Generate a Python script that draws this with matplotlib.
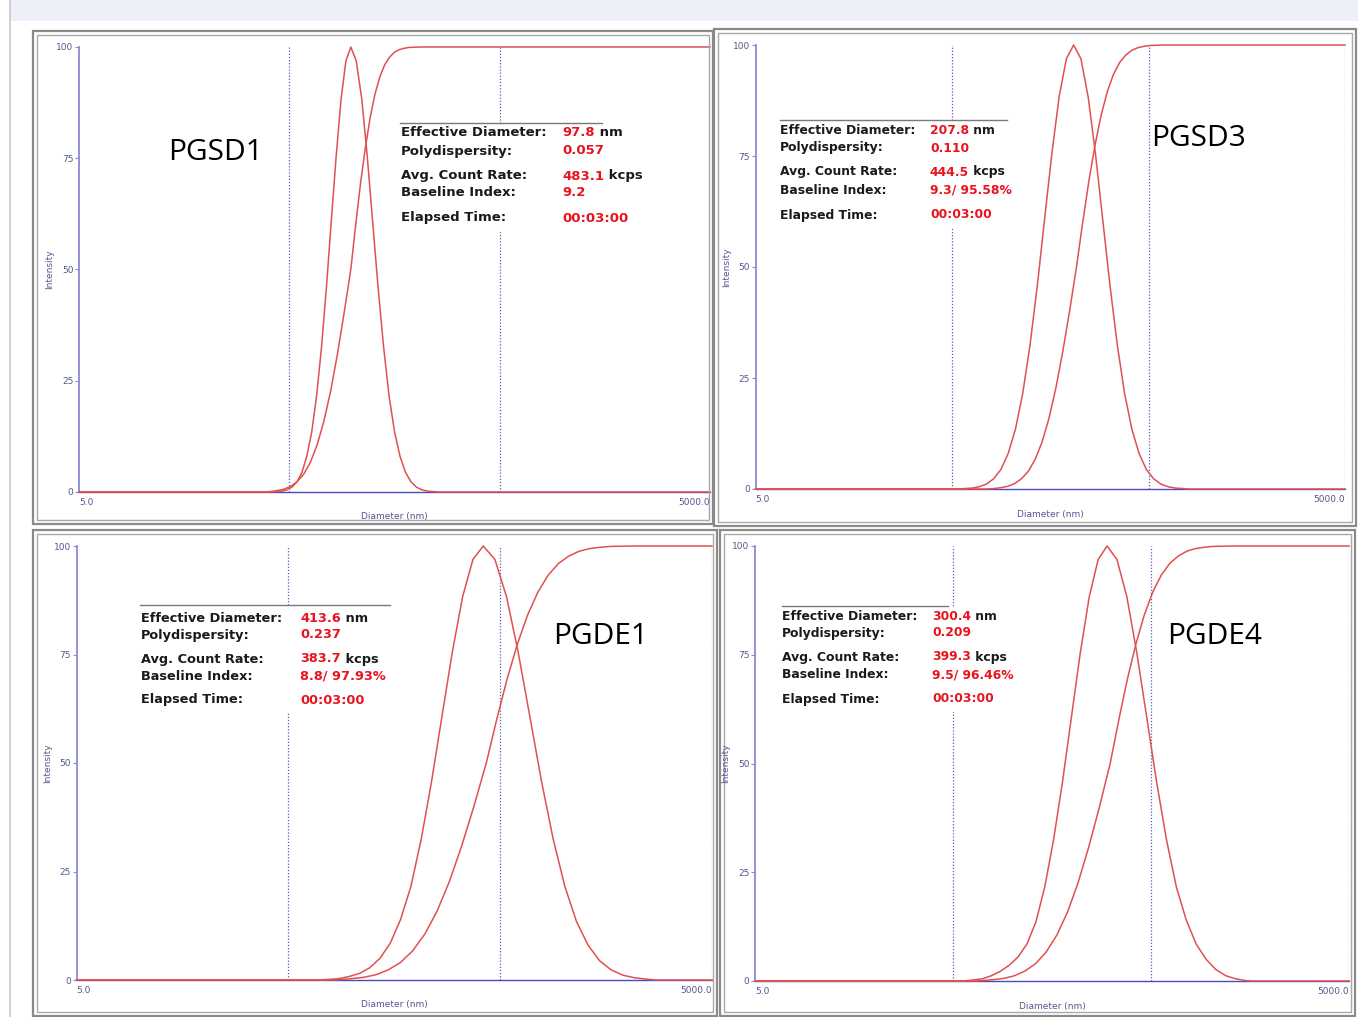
import matplotlib
matplotlib.use("Agg")
import matplotlib.pyplot as plt
from matplotlib.patches import Rectangle
from matplotlib.ticker import NullLocator

# ---- data (diameter in nm, intensity in %) ----
sample_names = ["PGSD1", "PGSD3", "PGDE1", "PGDE4"]

pgsd1_dist_d = [5, 40.0, 43.9, 46.3, 48.8, 51.5, 54.4, 57.4, 60.5, 63.9, 67.4, 71.1, 75.0, 79.1,
                83.5, 88.1, 92.9, 98.0, 104.0, 110.5, 117.3, 124.5, 132.2, 140.4, 149.0, 158.2,
                168.0, 178.3, 189.3, 201.0, 213.4, 226.6, 240.6, 255.0, 5000]
pgsd1_dist_i = [0, 0, 0.1, 0.2, 0.5, 1.1, 2.3, 4.4, 8.0, 13.5, 21.6, 32.5, 45.8, 60.7,
                75.5, 88.3, 96.9, 100, 96.9, 88.3, 75.5, 60.7, 45.8, 32.5, 21.6, 13.5,
                8.0, 4.4, 2.3, 1.1, 0.5, 0.2, 0.1, 0, 0]
pgsd1_cum_d = [5, 38.0, 40.5, 43.6, 46.9, 50.5, 54.4, 58.5, 63.0, 67.8, 73.0, 78.6, 84.6, 91.0,
               98.0, 103.3, 108.9, 114.9, 121.1, 127.7, 134.7, 142.0, 149.7, 157.8, 166.4,
               175.5, 185.0, 210.0, 5000]
pgsd1_cum_i = [0, 0, 0.1, 0.3, 0.6, 1.2, 2.3, 4.0, 6.7, 10.6, 15.9, 22.7, 30.9, 40.1,
               50, 59.9, 69.2, 77.3, 84.1, 89.4, 93.3, 96.0, 97.7, 98.8, 99.4,
               99.7, 99.9, 100, 100]

pgsd3_dist_d = [5, 54.0, 57.9, 63.1, 68.7, 74.8, 81.5, 88.7, 96.6, 105.2, 114.6, 124.8, 135.9,
                147.9, 161.1, 175.4, 191.0, 208.0, 226.5, 246.6, 268.6, 292.4, 318.5, 346.8,
                377.6, 411.2, 447.8, 487.6, 531.0, 578.2, 629.6, 685.6, 746.6, 800, 5000]
pgsd3_dist_i = [0, 0, 0.1, 0.2, 0.5, 1.1, 2.3, 4.4, 8.0, 13.5, 21.6, 32.5, 45.8,
                60.7, 75.5, 88.3, 96.9, 100, 96.9, 88.3, 75.5, 60.7, 45.8, 32.5,
                21.6, 13.5, 8.0, 4.4, 2.3, 1.1, 0.5, 0.2, 0.1, 0, 0]
pgsd3_cum_d = [5, 76.0, 81.7, 88.6, 96.0, 104.1, 112.8, 122.3, 132.6, 143.7, 155.7, 168.8, 183.0,
               198.4, 215.0, 231.0, 248.3, 266.8, 286.7, 308.1, 331.1, 355.8, 382.3, 410.9,
               441.5, 474.4, 509.9, 600, 5000]
pgsd3_cum_i = [0, 0, 0.1, 0.3, 0.6, 1.2, 2.3, 4.0, 6.7, 10.6, 15.9, 22.7, 30.9,
               40.1, 50, 59.9, 69.2, 77.3, 84.1, 89.4, 93.3, 96.0, 97.7, 98.8,
               99.4, 99.7, 99.9, 100, 100]

pgde1_dist_d = [5, 70.0, 86.4, 96.7, 108.2, 121.0, 135.4, 151.5, 169.5, 189.6, 212.1, 237.3,
                265.5, 297.1, 332.4, 371.9, 416.0, 472.2, 535.9, 608.3, 690.4, 783.6, 889.4,
                1009.5, 1145.7, 1300.5, 1476.0, 1675.3, 1901.5, 2158.2, 2449.6, 2700, 5000]
pgde1_dist_i = [0, 0, 0.3, 0.8, 1.5, 2.8, 5.0, 8.5, 14.0, 21.6, 32.5, 45.8,
                60.7, 75.5, 88.3, 96.9, 100, 96.9, 88.3, 75.5, 60.7, 45.8, 32.5,
                21.6, 13.5, 8.0, 4.4, 2.3, 1.1, 0.5, 0.2, 0, 0]
pgde1_cum_d = [5, 80.0, 86.6, 99.0, 113.1, 129.3, 147.7, 168.8, 193.0, 220.5, 252.0, 288.0,
               329.2, 376.2, 430.0, 481.0, 538.1, 602.1, 673.7, 753.7, 843.3, 943.4, 1055.5,
               1180.8, 1321.2, 1478.2, 1653.7, 2100, 5000]
pgde1_cum_i = [0, 0, 0.1, 0.3, 0.6, 1.2, 2.3, 4.0, 6.7, 10.6, 15.9, 22.7,
               30.9, 40.1, 50, 59.9, 69.2, 77.3, 84.1, 89.4, 93.3, 96.0, 97.7,
               98.8, 99.4, 99.7, 99.9, 100, 100]

pgde4_dist_d = [5, 56.0, 62.0, 70.3, 78.0, 86.5, 96.0, 106.4, 118.1, 131.0, 145.3, 161.1, 178.7,
                198.2, 219.8, 243.8, 270.5, 300.0, 336.6, 377.7, 423.8, 475.5, 533.5, 598.6,
                671.6, 753.6, 845.5, 948.7, 1064.4, 1194.3, 1340.0, 1503.6, 1600, 5000]
pgde4_dist_i = [0, 0, 0.2, 0.5, 1.2, 2.2, 3.6, 5.5, 8.5, 13.5, 21.6, 32.5, 45.8,
                60.7, 75.5, 88.3, 96.9, 100, 96.9, 88.3, 75.5, 60.7, 45.8, 32.5,
                21.6, 14.0, 8.5, 5.0, 2.6, 1.2, 0.5, 0.1, 0, 0]
pgde4_cum_d = [5, 66.0, 70.4, 79.7, 90.2, 102.1, 115.5, 130.8, 148.0, 167.5, 189.6, 214.5,
               242.8, 274.8, 311.0, 343.4, 379.1, 418.6, 462.1, 510.2, 563.3, 622.0, 686.7,
               758.2, 837.1, 924.2, 1020.4, 1300, 5000]
pgde4_cum_i = [0, 0, 0.1, 0.3, 0.6, 1.2, 2.3, 4.0, 6.7, 10.6, 15.9, 22.7,
               30.9, 40.1, 50, 59.9, 69.2, 77.3, 84.1, 89.4, 93.3, 96.0, 97.7,
               98.8, 99.4, 99.7, 99.9, 100, 100]

stat_labels = ["Effective Diameter:", "Polydispersity:", "Avg. Count Rate:",
               "Baseline Index:", "Elapsed Time:"]
eff_diam = ["97.8", "207.8", "413.6", "300.4"]
polydisp = ["0.057", "0.110", "0.237", "0.209"]
count_rate = ["483.1", "444.5", "383.7", "399.3"]
baseline = ["9.2", "9.3/ 95.58%", "8.8/ 97.93%", "9.5/ 96.46%"]
elapsed = ["00:03:00", "00:03:00", "00:03:00", "00:03:00"]

dists = [(pgsd1_dist_d, pgsd1_dist_i), (pgsd3_dist_d, pgsd3_dist_i),
         (pgde1_dist_d, pgde1_dist_i), (pgde4_dist_d, pgde4_dist_i)]
cums = [(pgsd1_cum_d, pgsd1_cum_i), (pgsd3_cum_d, pgsd3_cum_i),
        (pgde1_cum_d, pgde1_cum_i), (pgde4_cum_d, pgde4_cum_i)]

# ---- layout (pixels of the 1358x1017 screenshot) ----
W, H = 1358, 1017
axes_px = [(79, 710, 47, 492), (755.5, 1345, 45, 489), (76.5, 712, 546, 980), (755, 1349, 546, 981)]
frames_px = [(33, 31, 713, 524), (714, 29, 1356, 526), (33, 530, 717, 1016), (720, 530, 1355, 1016)]
# label x, value x, rule y, rule x0, rule x1, white box right edge, font size
info_px = [
    (401, 562, 123, 400, 602, 645, 9.5),
    (780, 930, 120, 780, 1007, 1013, 8.9),
    (141, 300, 605, 140, 390, 392, 9.3),
    (782, 932, 606, 782, 948, 1015, 8.9),
]
rows_px = [[133, 151, 176, 193, 218], [130, 148, 172, 190, 215],
           [618, 635, 659, 676, 700], [616, 633, 657, 675, 699]]
name_px = [(216, 153), (1198, 138), (601, 637), (1215, 636)]

RED_LINE = "#e05050"
RED_TXT = "#e8141e"
AX_BLUE = "#8a8ad8"
BASE_BLUE = "#4a4ac8"
DOT_BLUE = "#5a5ab8"
TICK_TXT = "#55558f"

fig = plt.figure(figsize=(W / 100, H / 100), dpi=100)
fig.patch.set_facecolor("white")

for k in range(4):
    x0, x1, y0, y1 = axes_px[k]
    ax = fig.add_axes([x0 / W, 1 - y1 / H, (x1 - x0) / W, (y1 - y0) / H])
    ax.set_xscale("log")
    ax.set_xlim(5, 5000)
    ax.set_ylim(0, 100)
    for s in ["top", "right"]:
        ax.spines[s].set_visible(False)
    ax.spines["left"].set_color(AX_BLUE)
    ax.spines["left"].set_linewidth(1.3)
    ax.spines["bottom"].set_color(BASE_BLUE)
    ax.spines["bottom"].set_linewidth(1.0)
    ax.set_yticks([0, 25, 50, 75, 100])
    ax.tick_params(axis="y", length=3, width=0.8, color=AX_BLUE, labelsize=6.5,
                   labelcolor=TICK_TXT, pad=1)
    ax.xaxis.set_minor_locator(NullLocator())
    ax.set_xticks([5, 5000], ["5.0", "5000.0"])
    ax.tick_params(axis="x", length=0, labelsize=6.5, labelcolor=TICK_TXT, pad=4)
    tl = ax.get_xticklabels()
    tl[0].set_ha("left")
    tl[1].set_ha("right")
    for d in [50, 500, 5000]:
        ax.axvline(d, color=DOT_BLUE, ls=(0, (1, 1.5)), lw=0.9, zorder=1)
    ax.plot(dists[k][0], dists[k][1], color=RED_LINE, lw=1.1, zorder=4, clip_on=False)
    ax.plot(cums[k][0], cums[k][1], color=RED_LINE, lw=1.1, zorder=4, clip_on=False)

# overlay in pixel coordinates for frames and report text
ov = fig.add_axes([0, 0, 1, 1], zorder=10)
ov.set_xlim(0, W)
ov.set_ylim(H, 0)
ov.axis("off")
ov.patch.set_visible(False)

ov.add_patch(Rectangle((10, 0), W - 10, 21, facecolor="#eef0f7", edgecolor="none"))
ov.plot([10, 10], [0, H], color="#c8c8cc", lw=1.2)

for k in range(4):
    fx0, fy0, fx1, fy1 = frames_px[k]
    ov.add_patch(Rectangle((fx0, fy0), fx1 - fx0, fy1 - fy0, fill=False, ec="#8a8a8a", lw=1.6))
    ov.add_patch(Rectangle((fx0 + 4, fy0 + 4), fx1 - fx0 - 8, fy1 - fy0 - 8, fill=False,
                           ec="#a8a8a8", lw=1.0))

    x0, x1, y0, y1 = axes_px[k]
    ov.text(x0 - 29, (y0 + y1) / 2, "Intensity", rotation=90, ha="center", va="center",
            fontsize=6.5, color=TICK_TXT)
    ov.text((x0 + x1) / 2, y1 + 25, "Diameter (nm)", ha="center", va="center",
            fontsize=6.5, color=TICK_TXT)

    lx, vx, rule_y, rx0, rx1, bx1, fs = info_px[k]
    rows = rows_px[k]
    ov.add_patch(Rectangle((rx0 - 2, rule_y + 1), bx1 - rx0 + 2, rows[-1] - rule_y + 12,
                           facecolor="white", edgecolor="none"))
    ov.plot([rx0, rx1], [rule_y, rule_y], color="#7a7a7a", lw=1.0)
    values = [eff_diam[k], polydisp[k], count_rate[k], baseline[k], elapsed[k]]
    units = [" nm", "", " kcps", "", ""]
    for j in range(5):
        y = rows[j]
        ov.text(lx, y, stat_labels[j], ha="left", va="center", fontsize=fs,
                fontweight="bold", color="#1a1a1a", family="DejaVu Sans")
        t = ov.text(vx, y, values[j], ha="left", va="center", fontsize=fs,
                    fontweight="bold", color=RED_TXT, family="DejaVu Sans")
        if units[j]:
            ov.annotate(units[j], xy=(1, 0.5), xycoords=t, ha="left", va="center",
                        fontsize=fs, fontweight="bold", color="#1a1a1a", family="DejaVu Sans")

    nx, ny = name_px[k]
    ov.text(nx, ny, sample_names[k], ha="center", va="center", fontsize=21.5,
            color="black", family="Open Sans")

fig.savefig("out.png", dpi=100)
